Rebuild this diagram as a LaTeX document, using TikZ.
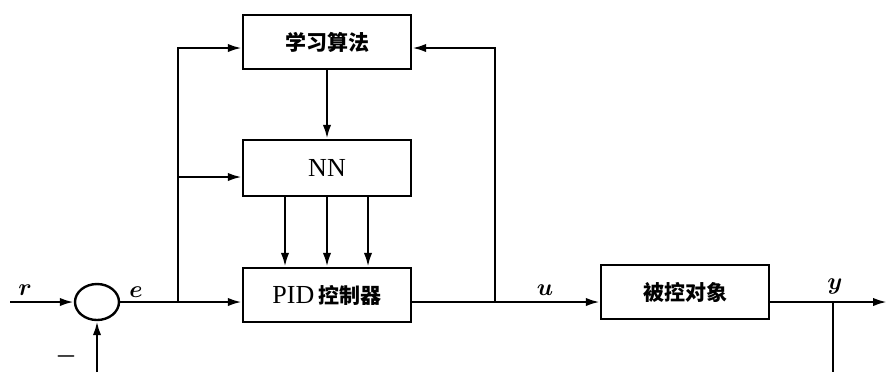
\documentclass[tikz,border=0pt]{standalone}
\usepackage{fontspec}
\setmainfont{Liberation Serif}
\newfontfamily\cjk{Noto Sans CJK SC}
\usepackage{tikz}
\usetikzlibrary{arrows.meta,shapes.geometric}

\begin{document}
\begin{tikzpicture}[x=0.5pt,y=-0.5pt,line width=1.2pt,
  font=\fontsize{13}{15}\selectfont,
  >={Latex[length=7pt,width=4.2pt]},
  blk/.style={draw,minimum width=84pt,minimum height=27pt,inner sep=0pt},
  zh/.style={font=\fontsize{10.5}{12}\cjk\bfseries},
  lbl/.style={inner sep=0pt,font=\fontsize{13}{15}\selectfont\boldmath}]
\useasboundingbox (0,0) rectangle (887,372);
\node[blk,zh] (learn) at (327,42) {学习算法};
\node[blk,minimum height=28pt] (nn) at (327,168) {NN};
\node[blk] (pid) at (327,295) {PID\,{\fontsize{10.5}{12}\cjk\bfseries 控制器}};
\node[blk,zh] (plant) at (685,292) {被控对象};
\node[draw,ellipse,minimum width=22pt,minimum height=18pt] (sum) at (97,302) {};
\coordinate (in) at (10,302);
\coordinate (e1) at (178,302);
\coordinate (u1) at (495,302);
\coordinate (y1) at (833,302);
\coordinate (out) at (887,302);
\coordinate (fbr) at (833,372);
\coordinate (fbl) at (97,372);
% main path
\draw[->] (in) -- (sum);
\draw[->] (sum) -- (pid.west |- sum);
\draw[->] (pid.east |- sum) -- (plant.west |- sum);
\draw[->] (plant.east |- sum) -- (out);
% learning loop
\draw[->] (e1) |- ([yshift=-3pt]learn.west);
\draw[->] (e1) |- ([yshift=-4.5pt]nn.west);
\draw[->] (u1) |- ([yshift=-3pt]learn.east);
\draw[->] (learn) -- (nn);
\foreach \dx in {-21pt,0pt,20.5pt}
  \draw[->] ([xshift=\dx]nn.south) -- ([xshift=\dx]pid.north);
% feedback
\draw (y1) -- (fbr);
\draw[->] (fbl) -- (sum);
\node[lbl] (rl) at (25,290) {$r$};
\node[lbl] (el) at (136,292) {$e$};
\node[lbl] (ul) at (545,290) {$u$};
\node[lbl] (yl) at (835,286) {$y$};
\node[lbl] (minus) at (66,356) {$-$};
\end{tikzpicture}
\end{document}
